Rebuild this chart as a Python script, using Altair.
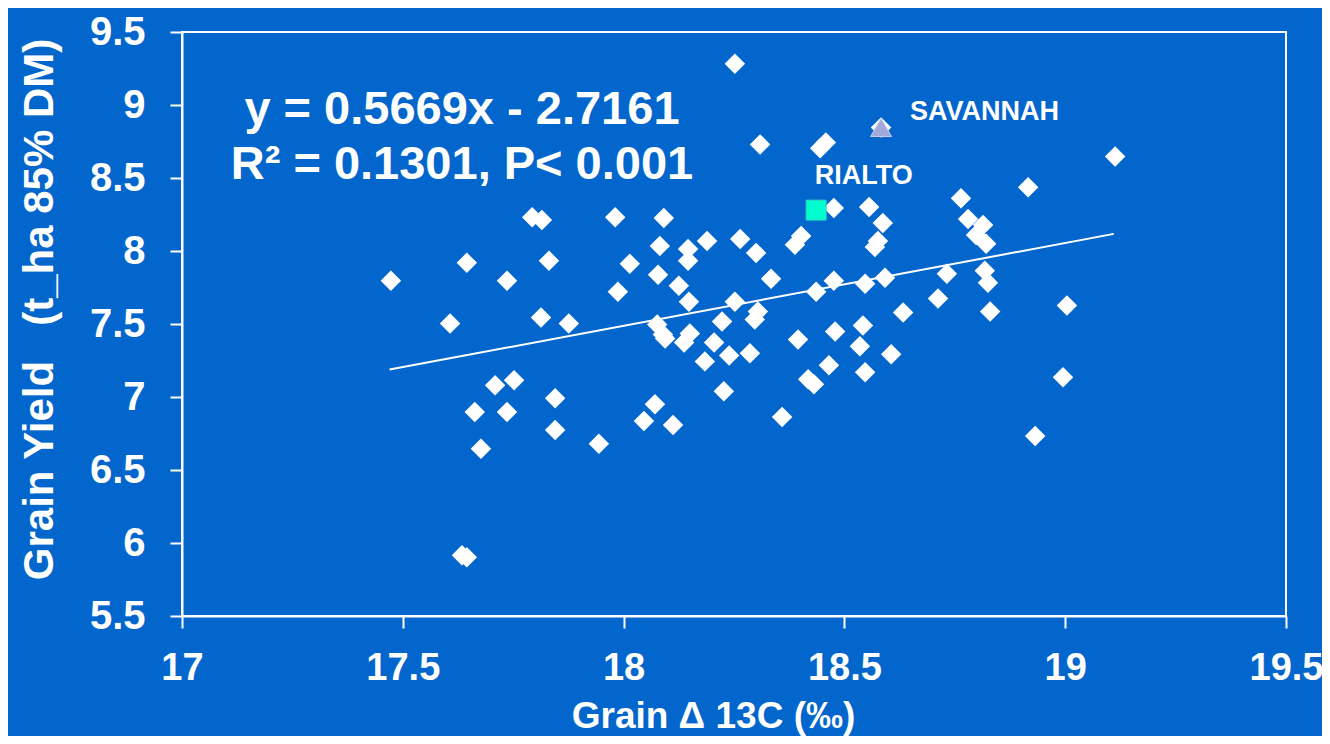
import altair as alt
import pandas as pd

# Main population (white diamonds)
delta_13c = [17.473, 17.607, 17.645, 17.663, 17.677, 17.634, 17.645, 17.709, 17.736, 17.736,
             17.752, 17.793, 17.815, 17.813, 17.831, 17.845, 17.845, 17.876, 17.944, 17.981,
             17.987, 18.014, 18.046, 18.071, 18.078, 18.082, 18.091, 18.076, 18.089, 18.094,
             18.112, 18.125, 18.137, 18.146, 18.146, 18.148, 18.150, 18.184, 18.189, 18.205,
             18.223, 18.227, 18.239, 18.252, 18.252, 18.264, 18.286, 18.300, 18.297, 18.304,
             18.309, 18.334, 18.359, 18.388, 18.395, 18.402, 18.418, 18.431, 18.436, 18.445,
             18.458, 18.465, 18.476, 18.476, 18.479, 18.535, 18.547, 18.542, 18.547, 18.556,
             18.569, 18.576, 18.587, 18.592, 18.606, 18.633, 18.712, 18.732, 18.764, 18.780,
             18.798, 18.814, 18.821, 18.818, 18.825, 18.830, 18.916, 18.932, 18.995, 19.004,
             19.113, 18.583]
grain_yield = [7.796, 7.503, 7.919, 6.897, 6.645, 5.916, 5.902, 7.081, 7.796, 6.897,
               7.115, 8.232, 8.212, 7.544, 7.933, 6.992, 6.774, 7.503, 6.679, 8.232,
               7.721, 7.912, 6.836, 6.951, 7.837, 8.035, 8.226, 7.497, 7.428, 7.401,
               6.808, 7.762, 7.374, 8.014, 7.933, 7.653, 7.435, 7.244, 8.069, 7.374,
               7.517, 7.040, 7.285, 9.282, 7.653, 8.083, 7.299, 7.987, 7.531, 7.585,
               8.730, 7.810, 6.863, 8.042, 7.394, 8.103, 7.122, 7.088, 7.721, 8.703,
               8.744, 7.217, 8.294, 7.796, 7.449, 7.347, 7.776, 7.490, 7.169, 8.301,
               8.028, 8.069, 8.192, 7.817, 7.292, 7.578, 7.674, 7.844, 8.362, 8.219,
               8.110, 8.178, 8.049, 7.865, 7.783, 7.585, 8.437, 6.733, 7.135, 7.626,
               8.648, 8.846]

# Highlighted varieties
rialto_x, rialto_y = [18.436], [8.280]
savannah_x, savannah_y = [18.583], [8.846]

# Fitted regression (from the printed equation)
slope, intercept = 0.5669, -2.7161
line_x = [17.47, 19.11]

# Annotation texts
eq_lines = ["y = 0.5669x - 2.7161", "R\u00b2 = 0.1301, P< 0.001"]
eq_x = [17.634, 17.634]
eq_y = [8.873, 8.491]
labels = ["SAVANNAH", "RIALTO"]
label_x = [18.6486, 18.433]
label_y = [8.894, 8.457]

BG = "#0366CC"
SANS = "Liberation Sans, Arial, Helvetica, sans-serif"

pts = pd.DataFrame({"x": delta_13c, "y": grain_yield})
line_df = pd.DataFrame({"x": line_x, "y": [slope * v + intercept for v in line_x]})
ria = pd.DataFrame({"x": rialto_x, "y": rialto_y})
sav = pd.DataFrame({"x": savannah_x, "y": savannah_y})
eq_df = pd.DataFrame({"x": eq_x, "y": eq_y, "t": eq_lines})
lab_df = pd.DataFrame({"x": label_x, "y": label_y, "t": labels})

xscale = alt.Scale(domain=[17, 19.5], nice=False, zero=False)
yscale = alt.Scale(domain=[5.5, 9.5], nice=False, zero=False)

xaxis = alt.Axis(
    title="Grain \u0394 13C (\u2030)", values=[17, 17.5, 18, 18.5, 19, 19.5],
    labelExpr="datum.value % 1 == 0 ? format(datum.value, 'd') : format(datum.value, '.1f')",
    grid=False, domainColor="white", domainWidth=2, tickColor="white", tickWidth=2,
    tickSize=12, labelColor="white", labelFont=SANS, labelFontSize=38,
    labelFontWeight="bold", labelPadding=21, labelFlush=False, labelOverlap=False,
    titleColor="white", titleFont=SANS, titleFontSize=37, titleFontWeight="bold",
    titleBaseline="alphabetic", titleY=111, titleX=531, titleAlign="center",
)
yaxis = alt.Axis(
    title="Grain Yield\u00a0\u00a0\u00a0(t_ha 85% DM)", values=[5.5, 6, 6.5, 7, 7.5, 8, 8.5, 9, 9.5],
    labelExpr="datum.value % 1 == 0 ? format(datum.value, 'd') : format(datum.value, '.1f')",
    grid=False, domainColor="white", domainWidth=2, tickColor="white", tickWidth=2,
    tickSize=12, labelColor="white", labelFont=SANS, labelFontSize=40,
    labelFontWeight="bold", labelPadding=25, labelFlush=False, labelOverlap=False,
    titleColor="white", titleFont=SANS, titleFontSize=42, titleFontWeight="bold",
    titleAngle=270, titleBaseline="alphabetic", titleX=-130, titleY=277, titleAlign="center",
)

base_x = alt.X("x:Q", scale=xscale, axis=xaxis)
base_y = alt.Y("y:Q", scale=yscale, axis=yaxis)

diamonds = alt.Chart(pts).mark_point(
    shape="diamond", filled=True, fill="white", size=420, opacity=1, strokeWidth=0
).encode(x=base_x, y=base_y)

reg = alt.Chart(line_df).mark_line(color="white", strokeWidth=2).encode(
    x=alt.X("x:Q", scale=xscale), y=alt.Y("y:Q", scale=yscale))

sq = alt.Chart(ria).mark_point(
    shape="square", filled=True, fill="#00FFCC", size=400, opacity=1,
    stroke="#33CCCC", strokeWidth=1
).encode(x=alt.X("x:Q", scale=xscale), y=alt.Y("y:Q", scale=yscale))

tri = alt.Chart(sav).mark_point(
    shape="triangle-up", filled=True, fill="#A2AADB", size=440, opacity=1,
    stroke="#C8CCEE", strokeWidth=1
).encode(x=alt.X("x:Q", scale=xscale), y=alt.Y("y:Q", scale=yscale))

eq = alt.Chart(eq_df).mark_text(
    font=SANS, fontSize=47, fontWeight="bold", color="white",
    align="center", baseline="alphabetic"
).encode(x=alt.X("x:Q", scale=xscale), y=alt.Y("y:Q", scale=yscale), text="t:N")

labs = alt.Chart(lab_df).mark_text(
    font=SANS, fontSize=27, fontWeight="bold", color="white",
    align="left", baseline="alphabetic"
).encode(x=alt.X("x:Q", scale=xscale), y=alt.Y("y:Q", scale=yscale), text="t:N")

chart = alt.layer(diamonds, reg, sq, tri, eq, labs).properties(
    width=1104, height=584,
    padding={"left": 174, "top": 24, "right": 36, "bottom": 120},
    autosize=alt.AutoSizeParams(type="none"),
    background=BG,
).configure_view(stroke="white", strokeWidth=2, fill=BG)

chart.save("out.html", embed_options={"renderer": "svg", "actions": False})
